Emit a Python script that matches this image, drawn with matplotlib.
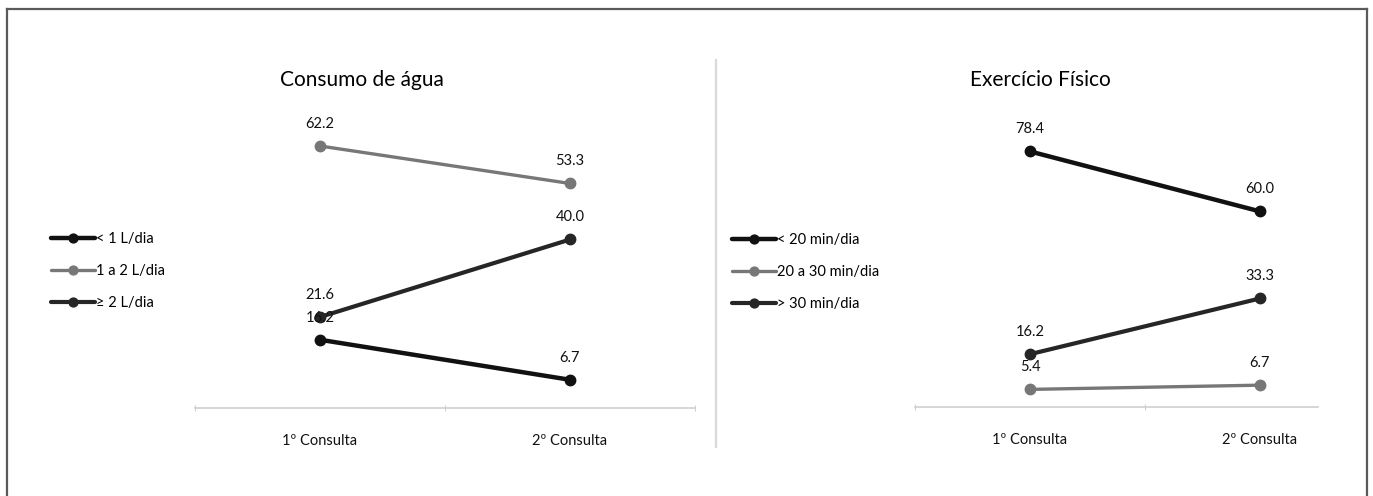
import matplotlib
matplotlib.use("Agg")
import matplotlib.pyplot as plt
from matplotlib.lines import Line2D

plt.rcParams['font.family'] = ['Lato', 'DejaVu Sans']

consultas = ['1º Consulta', '2º Consulta']

# consumo de água (%)
agua_labels = ['< 1 L/dia', '1 a 2 L/dia', '≥ 2 L/dia']
agua_menos_1 = [16.2, 6.7]
agua_1_a_2 = [62.2, 53.3]
agua_mais_2 = [21.6, 40.0]

# exercício físico (%)
exerc_labels = ['< 20 min/dia', '20 a 30 min/dia', '> 30 min/dia']
exerc_menos_20 = [78.4, 60.0]
exerc_20_a_30 = [5.4, 6.7]
exerc_mais_30 = [16.2, 33.3]

colors = ['#111111', '#777777', '#262626']
widths = [3.2, 2.4, 3.0]

W, H = 1373, 496
fig = plt.figure(figsize=(W / 100, H / 100), dpi=100)


def px_axes(x0, x1, y_zero, y_top):
    return fig.add_axes([x0 / W, (H - y_zero) / H, (x1 - x0) / W, (y_zero - y_top) / H])


def draw_panel(ax, series, labels, ymax, spine_end):
    x = range(len(consultas))
    handles = []
    for vals, lab, c, lw in zip(series, labels, colors, widths):
        h, = ax.plot(x, vals, color=c, lw=lw, marker='o', ms=7.5, label=lab,
                     solid_capstyle='round')
        handles.append(h)
        for xi, v in zip(x, vals):
            ax.annotate(f'{v:.1f}', (xi, v), xytext=(0, 16), textcoords='offset points',
                        ha='center', va='center', fontsize=10.5, color='#111111')
    ax.set_xlim(-0.5, 1.5)
    ax.set_ylim(0, ymax)
    for s in ['top', 'right', 'left']:
        ax.spines[s].set_visible(False)
    ax.spines['bottom'].set_color('#cfcfcf')
    ax.spines['bottom'].set_linewidth(1.2)
    ax.spines['bottom'].set_bounds(-0.5, spine_end)
    ax.set_yticks([])
    ax.set_xticks([-0.5, 0.5, 1.5])
    ax.set_xticklabels([])
    ax.set_xticks(list(x), minor=True)
    ax.set_xticklabels(consultas, minor=True, fontsize=10.5, color='#111111')
    ax.tick_params(axis='x', which='major', length=4, color='#cfcfcf', direction='inout')
    ax.tick_params(axis='x', which='minor', length=0, pad=19)
    ax.patch.set_alpha(0)
    return handles


ax1 = px_axes(195, 695, 408, 71)
h1 = draw_panel(ax1, [agua_menos_1, agua_1_a_2, agua_mais_2], agua_labels, 80, 1.5)

ax2 = px_axes(915, 1375, 407, 81)
h2 = draw_panel(ax2, [exerc_menos_20, exerc_20_a_30, exerc_mais_30], exerc_labels, 100, 1.25)

fig.text(362 / W, 1 - 80 / H, 'Consumo de água', ha='center', va='center', fontsize=15)
fig.text(1040 / W, 1 - 80 / H, 'Exercício Físico', ha='center', va='center', fontsize=15)

leg_kw = dict(frameon=False, fontsize=10.5, handlelength=3.0, handletextpad=0.1,
              labelspacing=1.25, loc='center left', borderaxespad=0, borderpad=0,
              markerscale=0.85)
fig.legend(handles=h1, bbox_to_anchor=(51 / W, 1 - 271 / H), **leg_kw)
fig.legend(handles=h2, bbox_to_anchor=(732 / W, 1 - 272 / H), **leg_kw)

# outer frame and separator
frame = dict(color='#5a5a5a', lw=1.6, transform=fig.transFigure)
fig.add_artist(Line2D([7 / W, 7 / W], [0, 1 - 9 / H], **frame))
fig.add_artist(Line2D([7 / W, 1367 / W], [1 - 9 / H, 1 - 9 / H], **frame))
fig.add_artist(Line2D([1367 / W, 1367 / W], [0, 1 - 9 / H], **frame))
fig.add_artist(Line2D([716 / W, 716 / W], [1 - 447 / H, 1 - 60 / H],
                      color='#dadada', lw=1.6, transform=fig.transFigure))

fig.savefig('out.png', dpi=100, facecolor='white')
